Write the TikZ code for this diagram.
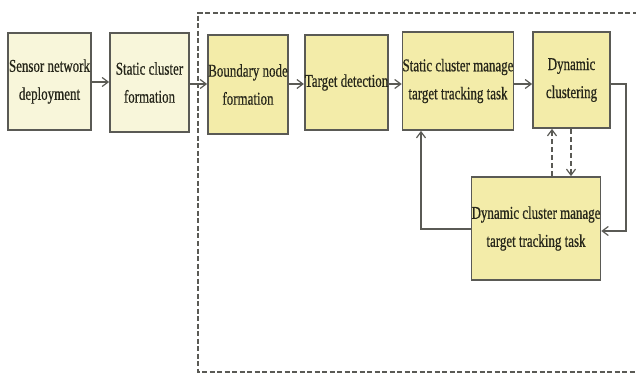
\documentclass[tikz,border=0pt]{standalone}
\usepackage{fontspec}
\setmainfont{Liberation Serif}[FakeStretch=0.72,FakeBold=0.6]
\usetikzlibrary{arrows.meta}
\definecolor{lightbox}{HTML}{F8F6DA}
\definecolor{yelbox}{HTML}{F3ECA9}
\definecolor{edge}{HTML}{5A5A55}
\definecolor{txt}{HTML}{26261A}
\tikzset{
  blk/.style={draw=edge, line width=1.8pt, text=txt, align=center, inner sep=0pt,
    font=\fontsize{18}{28}\selectfont},
  lite/.style={blk, fill=lightbox},
  yel/.style={blk, fill=yelbox},
  conn/.style={draw=edge, line width=1.6pt, -{Straight Barb[length=6pt,width=9pt,line width=1.2pt]}},
  dconn/.style={conn, dashed, dash pattern=on 5pt off 3pt},
}
\begin{document}
\begin{tikzpicture}[x=1pt,y=-1pt]
\useasboundingbox (0,0) rectangle (636,379);
\draw[edge, line width=2pt, dash pattern=on 5pt off 2.5pt] (645,13) -- (198,13) -- (198,372) -- (645,372);
\node[lite, minimum width=83pt, minimum height=97pt] (snd) at (49.5,81.5) {Sensor network\\deployment};
\node[lite, minimum width=79pt, minimum height=99pt] (scf) at (149.5,82.5) {Static cluster\\formation};
\node[yel, minimum width=80pt, minimum height=99pt] (bnf) at (248,84.5) {Boundary node\\formation};
\node[yel, minimum width=83pt, minimum height=95pt] (td) at (346.5,82.5) {Target detection};
\node[yel, minimum width=110pt, minimum height=98pt] (scm) at (458,81) {Static cluster manage\\target tracking task};
\node[yel, minimum width=77pt, minimum height=96pt] (dc) at (571.5,80) {Dynamic\\clustering};
\node[yel, minimum width=128pt, minimum height=103pt] (dcm) at (536,228.5) {Dynamic cluster manage\\target tracking task};
\draw[conn] (snd.east |- 0,82) -- (scf.west |- 0,82);
\draw[conn] (scf.east |- 0,84) -- (bnf.west |- 0,84);
\draw[conn] (bnf.east |- 0,84) -- (td.west |- 0,84);
\draw[conn] (td.east |- 0,84) -- (scm.west |- 0,84);
\draw[conn] (scm.east |- 0,84) -- (dc.west |- 0,84);
\coordinate (r1) at (626,84);
\coordinate (r2) at (626,231);
\draw[conn] (dc.east |- r1) -- (r1) -- (r2) -- (dcm.east |- r2);
\coordinate (l1) at (421,229);
\draw[conn] (dcm.west |- l1) -- (l1) -- (l1 |- scm.south);
\draw[dconn] (552,0 |- dcm.north) -- (552,0 |- dc.south);
\draw[dconn] (571,0 |- dc.south) -- (571,0 |- dcm.north);
\end{tikzpicture}
\end{document}
